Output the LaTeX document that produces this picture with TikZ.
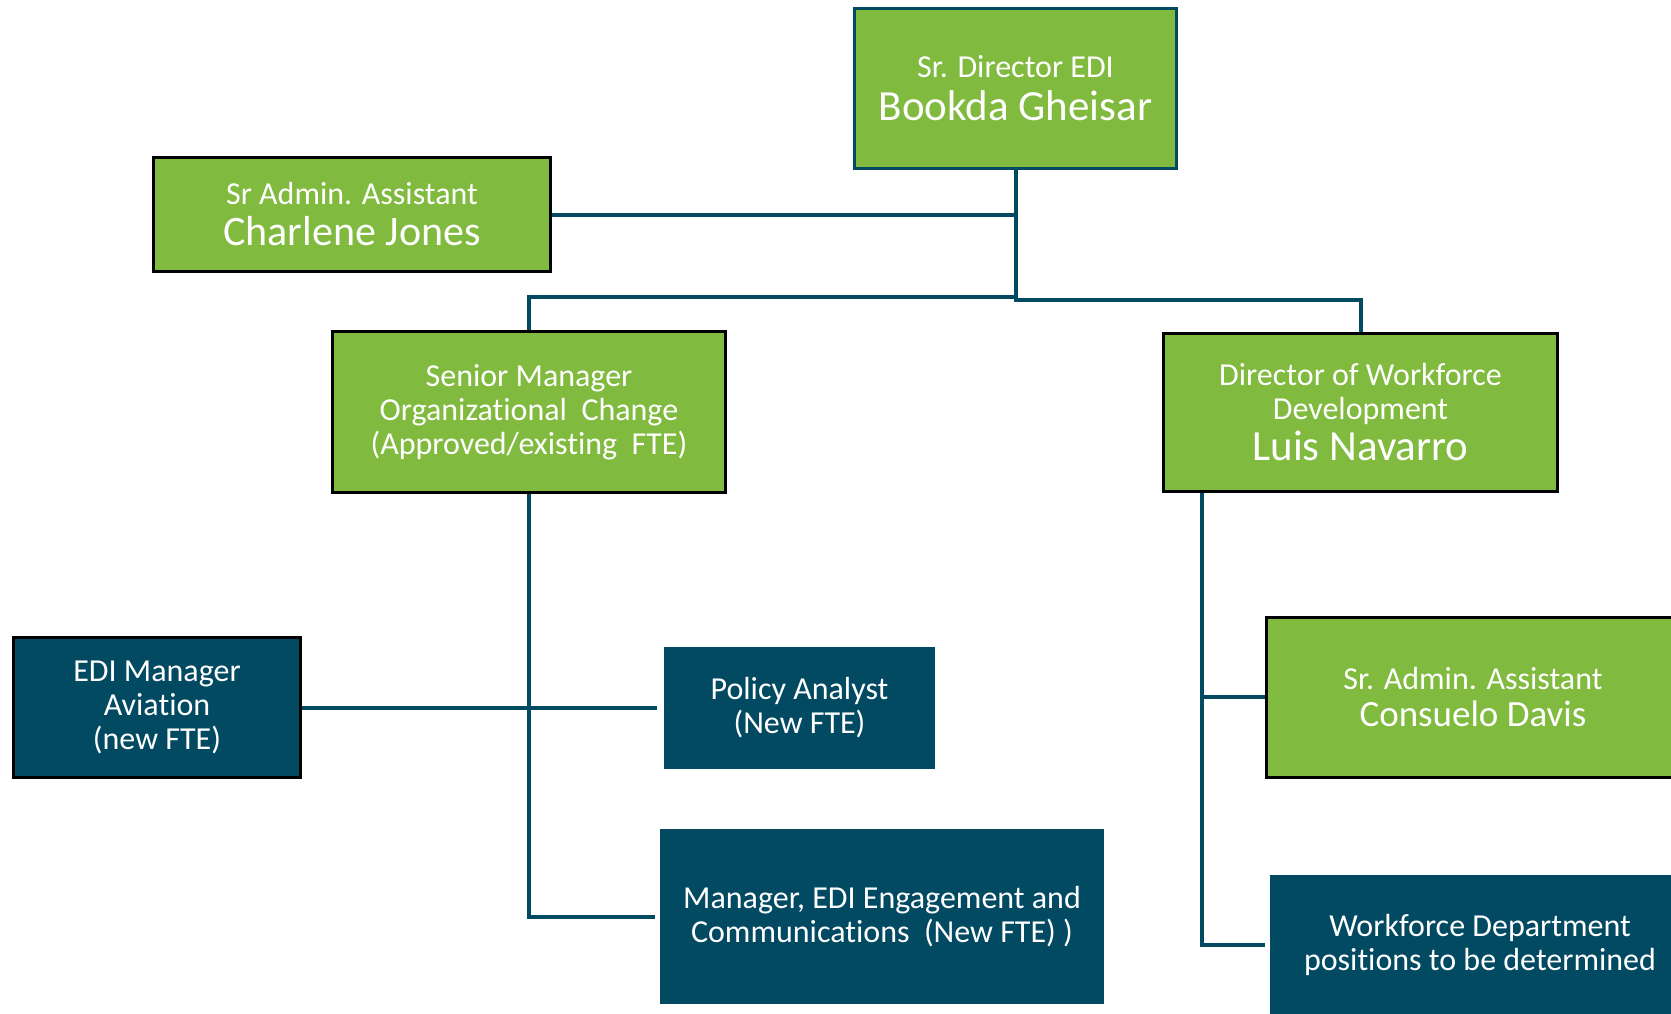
\documentclass[tikz,border=0pt]{standalone}
\usepackage{fontspec}
\setmainfont{Carlito}[Ligatures=NoCommon]
\definecolor{edigreen}{RGB}{128,186,62}
\definecolor{edinavy}{RGB}{2,73,98}
\newcommand{\smalltx}{\fontsize{32}{34}\selectfont\lineskiplimit=-100pt\relax}
\newcommand{\bigtx}[1]{\fontsize{#1}{#1}\selectfont}
\begin{document}
\begin{tikzpicture}[x=1pt,y=-1pt,
  box/.style={rectangle,inner sep=0pt,align=center,text=white,font=\smalltx},
  greenbox/.style={box,fill=edigreen,draw=black,line width=3pt},
  navybox/.style={box,fill=edinavy},
  link/.style={draw=edinavy,line width=4pt}]
\useasboundingbox (0,0) rectangle (1671,1013);
\fill[white] (0,0) rectangle (1671,1013);
% nodes
\node[greenbox,draw=edinavy,minimum width=322pt,minimum height=160pt] (top) at (1015.5,88.5)
  {Sr. Director EDI\\[9pt]{\bigtx{43}Bookda Gheisar}};
\node[greenbox,minimum width=397pt,minimum height=114pt] (charlene) at (352,214.5)
  {Sr Admin. Assistant\\[7pt]{\bigtx{42}Charlene Jones}};
\node[greenbox,minimum width=393pt,minimum height=161pt] (senior) at (529,412)
  {Senior Manager\\Organizational\ \ Change\\(Approved/existing\ \ FTE)};
\node[greenbox,minimum width=394pt,minimum height=158pt] (director) at (1360.5,412.5)
  {Director of Workforce\\Development\\[7pt]{\bigtx{43}Luis Navarro}};
\node[navybox,draw=black,line width=3pt,minimum width=287pt,minimum height=140pt] (edi) at (157,707.5)
  {EDI Manager\\Aviation\\(new FTE)};
\node[navybox,minimum width=271pt,minimum height=122pt] (policy) at (799.5,708)
  {Policy Analyst\\(New FTE)};
\node[navybox,minimum width=444pt,minimum height=175pt] (manager) at (882,916.5)
  {Manager, EDI Engagement and\\Communications\ \ (New FTE) )};
\node[greenbox,minimum width=414pt,minimum height=160pt] (consuelo) at (1473,697)
  {Sr. Admin. Assistant\\[3pt]{\bigtx{37}Consuelo Davis}};
\node[navybox,minimum width=420pt,minimum height=140pt] (workforce) at (1480,945)
  {Workforce Department\\positions to be determined};
% connectors
\coordinate (j) at (top.south |- 0,297);
\coordinate (jr) at (top.south |- 0,300);
\coordinate (dv) at ([xshift=40pt]director.south west);
\draw[link] (top.south) -- (jr);
\draw[link] (charlene.east) -- (charlene.east -| top.south);
\draw[link] ([xshift=2pt]j) -| (senior.north);
\draw[link] ([xshift=-2pt]jr) -| (director.north);
\draw[link,shorten >=5pt] (senior.south) |- (manager.west);
\draw[link] (edi.east) -- (edi.east -| senior.south);
\draw[link,shorten >=7pt] (senior.south |- policy.west) -- (policy.west);
\draw[link,shorten >=5pt] (dv) |- (workforce.west);
\draw[link] (dv |- consuelo.west) -- (consuelo.west);
\end{tikzpicture}
\end{document}
